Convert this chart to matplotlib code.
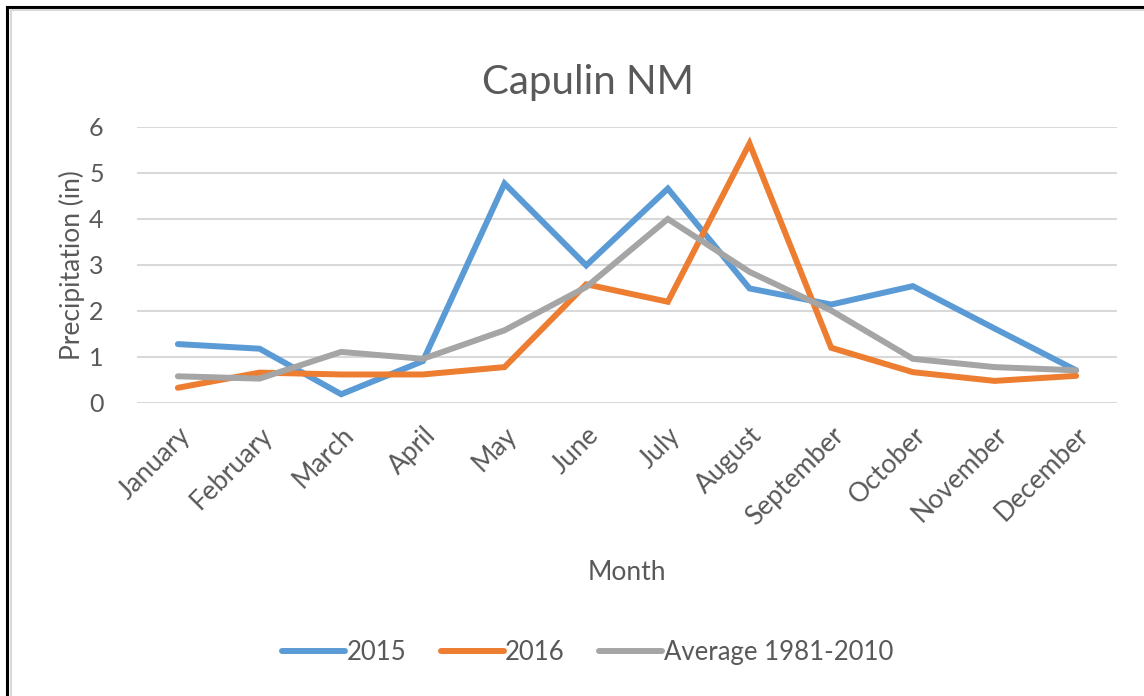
import numpy as np
import matplotlib.pyplot as plt
from matplotlib.lines import Line2D

months = ['January', 'February', 'March', 'April', 'May', 'June', 'July',
          'August', 'September', 'October', 'November', 'December']
precip_2015 = [1.28, 1.18, 0.19, 0.91, 4.77, 2.99, 4.66, 2.49, 2.14, 2.54, 1.62, 0.71]
precip_2016 = [0.33, 0.66, 0.62, 0.62, 0.78, 2.58, 2.20, 5.64, 1.20, 0.67, 0.48, 0.59]
precip_avg = [0.58, 0.53, 1.11, 0.96, 1.58, 2.52, 4.00, 2.85, 2.01, 0.96, 0.78, 0.71]
series_names = ['2015', '2016', 'Average 1981-2010']
colors = ['#5B9BD5', '#ED7D31', '#A5A5A5']

plt.rcParams['font.family'] = ['Lato', 'DejaVu Sans']
txt = '#595959'

fig = plt.figure(figsize=(11.44, 6.96), dpi=100)
ax = fig.add_axes([0.1198, 0.4210, 0.8566, 0.3966])

x = np.arange(len(months))
for vals, c in zip([precip_2015, precip_2016, precip_avg], colors):
    ax.plot(x, vals, color=c, lw=4.3, solid_joinstyle='miter', solid_capstyle='round', zorder=3)

ax.set_xlim(-0.5, 11.5)
ax.set_ylim(0, 6)
ax.set_yticks(range(7))
ax.yaxis.grid(True, color='#D9D9D9', lw=1.5)
ax.set_axisbelow(True)
for s in ax.spines.values():
    s.set_visible(False)
ax.tick_params(length=0, labelsize=18, colors=txt, pad=24)
ax.tick_params(axis='x', pad=14, labelsize=19)
ax.set_xticks(x)
ax.set_xticklabels(months, rotation=45, ha='right', rotation_mode='anchor')
ax.set_ylabel('Precipitation (in)', fontsize=19, color=txt, labelpad=3)
ax.set_xlabel('Month', fontsize=19, color=txt, labelpad=22)
fig.text(0.5136, 0.882, 'Capulin NM', fontsize=29, color=txt, ha='center', va='center')

handles = [Line2D([], [], color=c, lw=4.3, solid_capstyle='round') for c in colors]
fig.legend(handles, series_names, loc='center', bbox_to_anchor=(0.5136, 0.063), ncol=3,
           frameon=False, fontsize=18.5, labelcolor=txt, handlelength=2.45,
           handletextpad=0.05, columnspacing=1.35)

# frame around the chart image (top and left edges visible)
fig.add_artist(Line2D([0.006, 0.006], [0, 0.99], transform=fig.transFigure, color='black', lw=2.2))
fig.add_artist(Line2D([0.006, 1], [0.99, 0.99], transform=fig.transFigure, color='black', lw=2.2))
fig.add_artist(Line2D([0.0095, 0.0095], [0, 0.985], transform=fig.transFigure, color='#D9D9D9', lw=1.5))
fig.add_artist(Line2D([0.0095, 1], [0.985, 0.985], transform=fig.transFigure, color='#D9D9D9', lw=1.5))

fig.savefig('out.png', dpi=100)
